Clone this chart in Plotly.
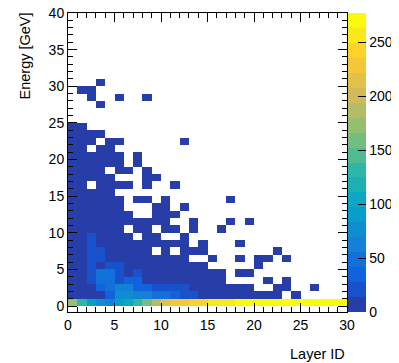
import plotly.graph_objects as go

# ---------------- data ----------------
N_LAYERS = 30
N_EBINS = 40
layer_centers = [i + 0.5 for i in range(N_LAYERS)]
energy_centers = [j + 0.5 for j in range(N_EBINS)]

x_tick_vals = [0, 5, 10, 15, 20, 25, 30]
y_tick_vals = [0, 5, 10, 15, 20, 25, 30, 35, 40]
z_tick_vals = [0, 50, 100, 150, 200, 250]
z_max = 277


def pad(vals):
    return list(vals) + [0] * (N_LAYERS - len(vals))


# events per layer, one list per 1 GeV energy bin (E = 0-1, 1-2, ...)
e00 = [170, 128, 92, 78, 65, 92, 108, 130, 160, 190, 212, 228, 232, 240, 244,
       252, 255, 258, 265, 266, 268, 269, 270, 271, 272, 273, 274, 275, 276, 277]
e01 = pad([9, 11, 12, 10, 32, 70, 74, 66, 58, 45, 42, 36, 24, 20, 12, 10, 8, 7, 6, 5, 4, 3, 2, 0, 1])
e02 = pad([8, 10, 12, 40, 44, 62, 58, 36, 30, 22, 20, 18, 16, 10, 9, 7, 6, 5, 3, 2, 0, 0, 1, 2, 0, 0, 1])
e03 = pad([8, 10, 20, 46, 48, 22, 34, 32, 12, 10, 8, 7, 6, 5, 4, 3, 2, 0, 0, 0, 0, 1, 0, 1])
e04 = pad([8, 9, 20, 46, 44, 18, 10, 22, 9, 8, 6, 5, 4, 3, 3, 2, 2, 0, 1, 1])
e05 = pad([8, 9, 22, 12, 22, 20, 8, 10, 7, 6, 5, 4, 3, 2, 2, 0, 0, 0, 0, 0, 1])
e06 = pad([8, 9, 22, 20, 12, 9, 8, 7, 6, 5, 4, 3, 2, 0, 0, 1, 0, 0, 1, 0, 1, 2, 0, 1])
e07 = pad([8, 9, 22, 18, 10, 8, 6, 5, 4, 0, 3, 0, 2, 2, 1, 0, 0, 0, 0, 0, 0, 0, 1])
e08 = pad([7, 9, 20, 10, 8, 6, 5, 4, 3, 3, 2, 2, 1, 0, 1, 0, 0, 0, 1])
e09 = pad([7, 9, 18, 8, 6, 5, 4, 0, 3, 2, 0, 0, 1])
e10 = pad([7, 8, 9, 7, 6, 5, 0, 3, 3, 0, 2, 2, 0, 1, 0, 0, 1])
e11 = pad([7, 8, 8, 7, 6, 5, 4, 3, 3, 2, 2, 0, 0, 1, 0, 0, 0, 1, 0, 1])
e12 = pad([6, 7, 8, 6, 5, 4, 3, 0, 0, 2, 2, 1])
e13 = pad([6, 7, 7, 6, 4, 3, 0, 0, 0, 2, 1, 0, 1])
e14 = pad([6, 7, 7, 5, 4, 3, 0, 2, 2, 0, 1, 0, 0, 0, 0, 0, 0, 1])
e15 = pad([5, 6, 6, 5, 3])
e16 = pad([5, 6, 0, 4, 3, 2, 2, 0, 1, 0, 0, 1])
e17 = pad([5, 5, 5, 4, 3, 0, 0, 0, 1, 1])
e18 = pad([4, 5, 5, 4, 0, 2, 2, 0, 1])
e19 = pad([4, 5, 4, 3, 2, 2, 0, 1])
e20 = pad([4, 4, 4, 3, 2, 1, 0, 1])
e21 = pad([3, 4, 0, 2, 2])
e22 = pad([3, 3, 3, 0, 2, 1, 0, 0, 0, 0, 0, 0, 1])
e23 = pad([3, 3, 2, 2])
e24 = pad([2, 2])
e25 = pad([])
e26 = pad([])
e27 = pad([0, 0, 0, 1])
e28 = pad([0, 0, 1, 0, 0, 1, 0, 0, 1])
e29 = pad([0, 1, 1])
e30 = pad([0, 0, 0, 1])

rows = [e00, e01, e02, e03, e04, e05, e06, e07, e08, e09, e10, e11, e12, e13, e14,
        e15, e16, e17, e18, e19, e20, e21, e22, e23, e24, e25, e26, e27, e28, e29, e30]
rows = rows + [pad([]) for _ in range(N_EBINS - len(rows))]
z = [[(v if v > 0 else None) for v in r] for r in rows]

# ---------------- ROOT kBird palette, 20 contour levels ----------------
stops = [0.0, 0.125, 0.25, 0.375, 0.5, 0.625, 0.75, 0.875, 1.0]
red = [0.2082, 0.0592, 0.0780, 0.0232, 0.1802, 0.5301, 0.8186, 0.9956, 0.9764]
green = [0.1664, 0.3599, 0.5041, 0.6419, 0.7178, 0.7492, 0.7328, 0.7862, 0.9832]
blue = [0.5293, 0.8684, 0.8385, 0.7914, 0.6425, 0.4662, 0.3499, 0.1968, 0.0539]


def bird(f):
    for i in range(len(stops) - 1):
        if f <= stops[i + 1]:
            t = (f - stops[i]) / (stops[i + 1] - stops[i])
            r = red[i] + t * (red[i + 1] - red[i])
            g = green[i] + t * (green[i + 1] - green[i])
            b = blue[i] + t * (blue[i + 1] - blue[i])
            return "rgb(%d,%d,%d)" % (round(r * 255), round(g * 255), round(b * 255))
    return "rgb(249,251,14)"


n_levels = 20
colorscale = []
for k in range(n_levels):
    idx = int((k + 0.99) * 255 / n_levels)
    c = bird(min(idx / 254.0, 1.0))
    colorscale.append([k / n_levels, c])
    colorscale.append([(k + 1) / n_levels, c])

# ---------------- figure ----------------
FONT = "Liberation Sans, Arial, Helvetica, sans-serif"
# the page body has an 8px margin: the figure starts at (8, 8) in the window
OFF = 8
WIN_W, WIN_H = 399, 363
PL, PR, PT, PB = 68, 347, 13, 312   # plot frame in window pixels
W, H = WIN_W - OFF, WIN_H - OFF
ML, MT = PL - OFF, PT - OFF
MR, MB = WIN_W - PR, WIN_H - PB
PW = PR - PL
PH = PB - PT


def px(xw):
    return (xw - PL) / PW


def py(yw):
    return (PB - yw) / PH


fig = go.Figure()
fig.add_trace(go.Heatmap(
    x=layer_centers, y=energy_centers, z=z,
    zmin=0, zmax=z_max, colorscale=colorscale,
    hoverongaps=False,
    colorbar=dict(
        x=px(348), xanchor="left", xpad=0,
        y=0.5, yanchor="middle", ypad=0,
        len=1, lenmode="fraction",
        thickness=18, thicknessmode="pixels",
        outlinewidth=0,
        tickvals=z_tick_vals, ticks="inside", ticklen=8,
        tickcolor="black", tickwidth=1,
        tickfont=dict(family=FONT, size=14, color="black"),
    ),
))

axis_common = dict(
    showgrid=False, zeroline=False, automargin=False,
    showline=True, linecolor="black", linewidth=1, mirror="ticks",
    ticks="inside", ticklen=9, tickcolor="black", tickwidth=1,
    ticklabeloverflow="allow",
    tickfont=dict(family=FONT, size=14, color="black"),
    minor=dict(ticks="inside", ticklen=5, dtick=1, tickcolor="black", tickwidth=1, showgrid=False),
)

fig.update_xaxes(range=[0, 30], tickvals=x_tick_vals, **axis_common)
fig.update_yaxes(range=[-0.8, 40], tickvals=y_tick_vals, **axis_common)

fig.update_layout(
    width=W, height=H,
    margin=dict(l=ML, r=MR, t=MT, b=MB, autoexpand=False),
    paper_bgcolor="white", plot_bgcolor="white",
    font=dict(family=FONT, size=14, color="black"),
    annotations=[
        dict(text="Energy [GeV]", textangle=-90, showarrow=False,
             xref="paper", yref="paper",
             x=px(14), xanchor="left",
             y=py(11), yanchor="top",
             font=dict(family=FONT, size=14.5, color="black")),
        dict(text="Layer ID", showarrow=False,
             xref="paper", yref="paper",
             x=px(347), xanchor="right",
             y=py(354), yanchor="middle",
             font=dict(family=FONT, size=14.5, color="black")),
        dict(text="Events", textangle=-90, showarrow=False,
             xref="paper", yref="paper",
             x=px(387), xanchor="left",
             y=py(11), yanchor="top",
             font=dict(family=FONT, size=14.5, color="black")),
    ],
)

fig.write_html("out.html")
